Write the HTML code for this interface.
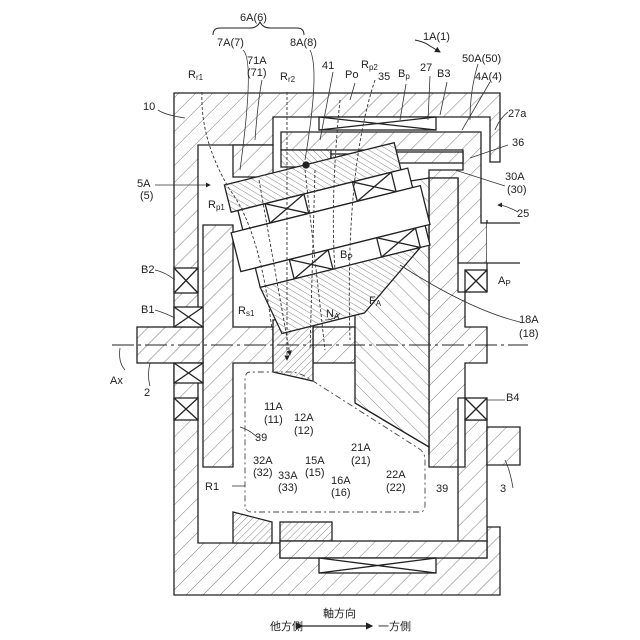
<!DOCTYPE html>
<html><head><meta charset="utf-8"><style>
html,body{margin:0;padding:0;background:#fff}
svg{display:block}
text{font-family:"Liberation Sans","Noto Sans CJK JP",sans-serif;font-size:11px;fill:#222}
</style></head><body>
<svg width="640" height="640" viewBox="0 0 640 640" xmlns="http://www.w3.org/2000/svg">
<defs>
<pattern id="h" width="12" height="12" patternUnits="userSpaceOnUse" patternTransform="rotate(45)">
<rect width="12" height="12" fill="#fff"/><line x1="0" y1="0" x2="0" y2="12" stroke="#555" stroke-width="0.8"/></pattern>
<pattern id="h2" width="5" height="5" patternUnits="userSpaceOnUse" patternTransform="rotate(45)">
<rect width="5" height="5" fill="#fff"/><line x1="0" y1="0" x2="0" y2="5" stroke="#555" stroke-width="0.7"/></pattern>
<pattern id="h3" width="5" height="5" patternUnits="userSpaceOnUse" patternTransform="rotate(-45)">
<rect width="5" height="5" fill="#fff"/><line x1="0" y1="0" x2="0" y2="5" stroke="#555" stroke-width="0.7"/></pattern>
<pattern id="h4" width="10" height="10" patternUnits="userSpaceOnUse" patternTransform="rotate(-45)">
<rect width="10" height="10" fill="#fff"/><line x1="0" y1="0" x2="0" y2="10" stroke="#555" stroke-width="0.7"/></pattern>
<marker id="ar" markerWidth="6" markerHeight="6" refX="5" refY="3" orient="auto"><path d="M0,0L6,3L0,6z" fill="#222"/></marker>
</defs>
<g stroke="#222" stroke-width="1.3" fill="none">
<!-- housing 10 -->
<path d="M174,93H500V162H490V117H273V145H198V543H280V558H487V527H500V595H174Z" fill="url(#h)"/>
<!-- rotating case 27 / 25 -->
<path d="M281,132H481V223H487V263H458V178H429V170H463V150H281Z" fill="url(#h)"/>
<rect x="319" y="117" width="117" height="13" fill="#fff"/>
<path d="M319,117L436,130M319,130L436,117"/>
<path d="M487,223H520V263H487Z" fill="#fff" stroke="none"/>
<path d="M487,220V223H520M520,263H487V292"/>
<!-- lower right of 27 -->
<path d="M465,420H487V541H458V467H465Z" fill="url(#h)"/>
<!-- 35, 36 -->
<rect x="281" y="150" width="50" height="17" fill="url(#h3)"/>
<rect x="331" y="154" width="56" height="9" fill="url(#h3)"/>
<rect x="387" y="152" width="76" height="11" fill="url(#h)"/>
<!-- 7A block -->
<rect x="233" y="145" width="40" height="32" fill="url(#h)"/>
<!-- carrier 5A -->
<path d="M203,225H233V327H273V363H233V467H203Z" fill="url(#h)"/>
<!-- shaft 2 -->
<rect x="137" y="327" width="66" height="36" fill="url(#h)"/>
<rect x="313" y="327" width="42" height="36" fill="url(#h)"/>
<!-- bearings -->
<g fill="#fff">
<rect x="174" y="268" width="24" height="25"/><path d="M174,268L198,293M174,293L198,268"/>
<rect x="174" y="307" width="29" height="20"/><path d="M174,307L203,327M174,327L203,307"/>
<rect x="174" y="363" width="29" height="20"/><path d="M174,363L203,383M174,383L203,363"/>
<rect x="174" y="398" width="24" height="22"/><path d="M174,398L198,420M174,420L198,398"/>
<rect x="465" y="270" width="22" height="22"/><path d="M465,270L487,292M465,292L487,270"/>
<rect x="465" y="398" width="22" height="22"/><path d="M465,398L487,420M465,420L487,398"/>
</g>
<!-- ring 39 right -->
<path d="M429,178H458V292H465V327H487V363H465V398H458V467H429Z" fill="url(#h)"/>
<!-- output shaft 3 -->
<path d="M487,427H520V465H487Z" fill="url(#h)"/>
<!-- sun 21A/22A -->
<path d="M355,190L429,178V447L355,403Z" fill="url(#h4)"/>
<path d="M355,403L429,447V455" />
<!-- gear 11A/12A -->
<path d="M273,320L313,316V381L273,372Z" fill="url(#h2)"/>
<!-- planet assembly -->
<g transform="translate(333,228) rotate(-14)">
<path d="M-95,-68H80V-40H-95Z" fill="url(#h3)"/>
<rect x="-88" y="-40" width="175" height="20" fill="#fff"/>
<path d="M-60,-40V-20M-20,-40V-20M30,-40V-20M70,-40V-20M-60,-20L-20,-40M-60,-40L-20,-20M30,-20L70,-40M30,-40L70,-20"/>
<rect x="-100" y="-20" width="195" height="40" fill="#fff"/>
<rect x="-85" y="20" width="175" height="20" fill="#fff"/>
<path d="M-50,20V40M-10,20V40M40,20V40M80,20V40M-50,40L-10,20M-50,20L-10,40M40,40L80,20M40,20L80,40"/>
<path d="M-85,40H80L10,90H-75Z" fill="url(#h3)"/>
</g>
<circle cx="306" cy="165" r="3" fill="#222"/>
<!-- 32A / 15A -->
<path d="M233,512L272,522V543H233Z" fill="url(#h2)"/>
<rect x="280" y="522" width="52" height="19" fill="url(#h2)"/>
<rect x="280" y="541" width="207" height="17" fill="url(#h)"/>
<rect x="319" y="558" width="117" height="15" fill="#fff"/>
<path d="M319,558L436,573M319,573L436,558"/>
</g>
<!-- axis -->
<line x1="112" y1="345" x2="528" y2="345" stroke="#222" stroke-width="1" stroke-dasharray="22,4,3,4"/>
<!-- R1 region -->
<path d="M250,372Q245,372 245,380V505Q245,512 252,512H420Q425,512 425,505V460Q425,452 418,448L313,381Q300,372 290,372Z" fill="none" stroke="#444" stroke-width="0.9" stroke-dasharray="6,3,2,3"/>
<!-- dashed flow lines -->
<g stroke="#333" stroke-width="0.9" stroke-dasharray="3,2" fill="none">
<path d="M202,92Q200,140 230,190Q260,230 272,330"/>
<path d="M287,92V360" marker-end="url(#ar)"/>
<path d="M259,180L290,355" marker-end="url(#ar)"/>
<path d="M305,170L325,350"/>
<path d="M315,170L310,350"/>
<path d="M340,100Q330,200 335,270"/>
<path d="M375,80Q345,170 350,340"/>
</g>
<!-- brace 6A -->
<path d="M213,35Q213,28 220,28H250Q257,28 260,22Q263,28 270,28H297Q304,28 304,35" stroke="#222" fill="none"/>
<path d="M415,40Q425,42 430,46L440,52" stroke="#222" fill="none" marker-end="url(#ar)"/>
<!-- leader lines -->
<g stroke="#333" stroke-width="0.8" fill="none">
<path d="M158,110Q165,115 185,118"/>
<path d="M243,50Q255,60 240,170"/><path d="M310,50Q320,70 305,160"/>
<path d="M262,80Q258,100 255,140"/><path d="M333,72L320,140"/>
<path d="M355,83L350,100"/><path d="M406,84L400,120"/><path d="M430,76L428,120"/>
<path d="M447,82L440,115"/><path d="M478,64Q470,90 470,120"/><path d="M490,82L462,130"/>
<path d="M508,112Q500,118 495,130"/><path d="M508,145L470,158"/><path d="M505,186L455,170"/>
<path d="M518,212Q505,205 498,205" marker-end="url(#ar)"/>
<path d="M155,185H210" marker-end="url(#ar)"/>
<path d="M155,270Q165,272 175,280"/><path d="M155,310Q165,313 175,318"/>
<path d="M125,370Q118,362 120,348"/><path d="M150,386Q147,375 150,363"/>
<path d="M520,322Q470,310 400,265"/><path d="M505,400H487"/>
<path d="M340,313Q335,320 325,320"/>
<path d="M258,438Q250,430 240,427"/><path d="M232,486H245"/>
<path d="M513,488Q510,470 505,460"/>
</g>
<!-- labels -->
<text x="240" y="21">6A(6)</text><text x="423" y="40">1A(1)</text>
<text x="217" y="46">7A(7)</text><text x="290" y="46">8A(8)</text>
<text x="247" y="64">71A</text><text x="247" y="76">(71)</text>
<text x="188" y="78">R<tspan font-size="8" dy="2">r1</tspan></text>
<text x="280" y="80">R<tspan font-size="8" dy="2">r2</tspan></text>
<text x="322" y="69">41</text><text x="345" y="78">Po</text>
<text x="361" y="68">R<tspan font-size="8" dy="2">p2</tspan></text>
<text x="378" y="80">35</text><text x="398" y="77">B<tspan font-size="8" dy="2">p</tspan></text>
<text x="420" y="71">27</text><text x="437" y="77">B3</text>
<text x="462" y="62">50A(50)</text><text x="475" y="80">4A(4)</text>
<text x="143" y="110">10</text><text x="508" y="117">27a</text><text x="512" y="146">36</text>
<text x="505" y="180">30A</text><text x="507" y="193">(30)</text><text x="517" y="217">25</text>
<text x="137" y="187">5A</text><text x="140" y="199">(5)</text>
<text x="208" y="208">R<tspan font-size="8" dy="2">p1</tspan></text>
<text x="340" y="258">B<tspan font-size="8" dy="2">P</tspan></text>
<text x="498" y="284">A<tspan font-size="8" dy="2">P</tspan></text>
<text x="141" y="273">B2</text><text x="141" y="313">B1</text>
<text x="238" y="314">R<tspan font-size="8" dy="2">s1</tspan></text>
<text x="326" y="317">N<tspan font-size="8" dy="2">A</tspan></text>
<text x="369" y="304">F<tspan font-size="8" dy="2">A</tspan></text>
<text x="519" y="323">18A</text><text x="519" y="337">(18)</text>
<text x="110" y="384">Ax</text><text x="144" y="396">2</text><text x="506" y="401">B4</text>
<text x="264" y="410">11A</text><text x="264" y="423">(11)</text>
<text x="294" y="421">12A</text><text x="294" y="434">(12)</text>
<text x="255" y="441">39</text><text x="351" y="451">21A</text><text x="351" y="464">(21)</text>
<text x="386" y="478">22A</text><text x="386" y="491">(22)</text>
<text x="436" y="492">39</text><text x="500" y="492">3</text><text x="205" y="490">R1</text>
<text x="253" y="464">32A</text><text x="253" y="476">(32)</text>
<text x="278" y="479">33A</text><text x="278" y="491">(33)</text>
<text x="305" y="464">15A</text><text x="305" y="476">(15)</text>
<text x="331" y="484">16A</text><text x="331" y="496">(16)</text>
<text x="323" y="617" font-size="10">軸方向</text>
<text x="270" y="630" font-size="10">他方側</text><text x="378" y="630" font-size="10">一方側</text>
<path d="M302,626H372" stroke="#222" stroke-width="1.2" marker-start="url(#ar)" marker-end="url(#ar)"/>
</svg>
</body></html>
